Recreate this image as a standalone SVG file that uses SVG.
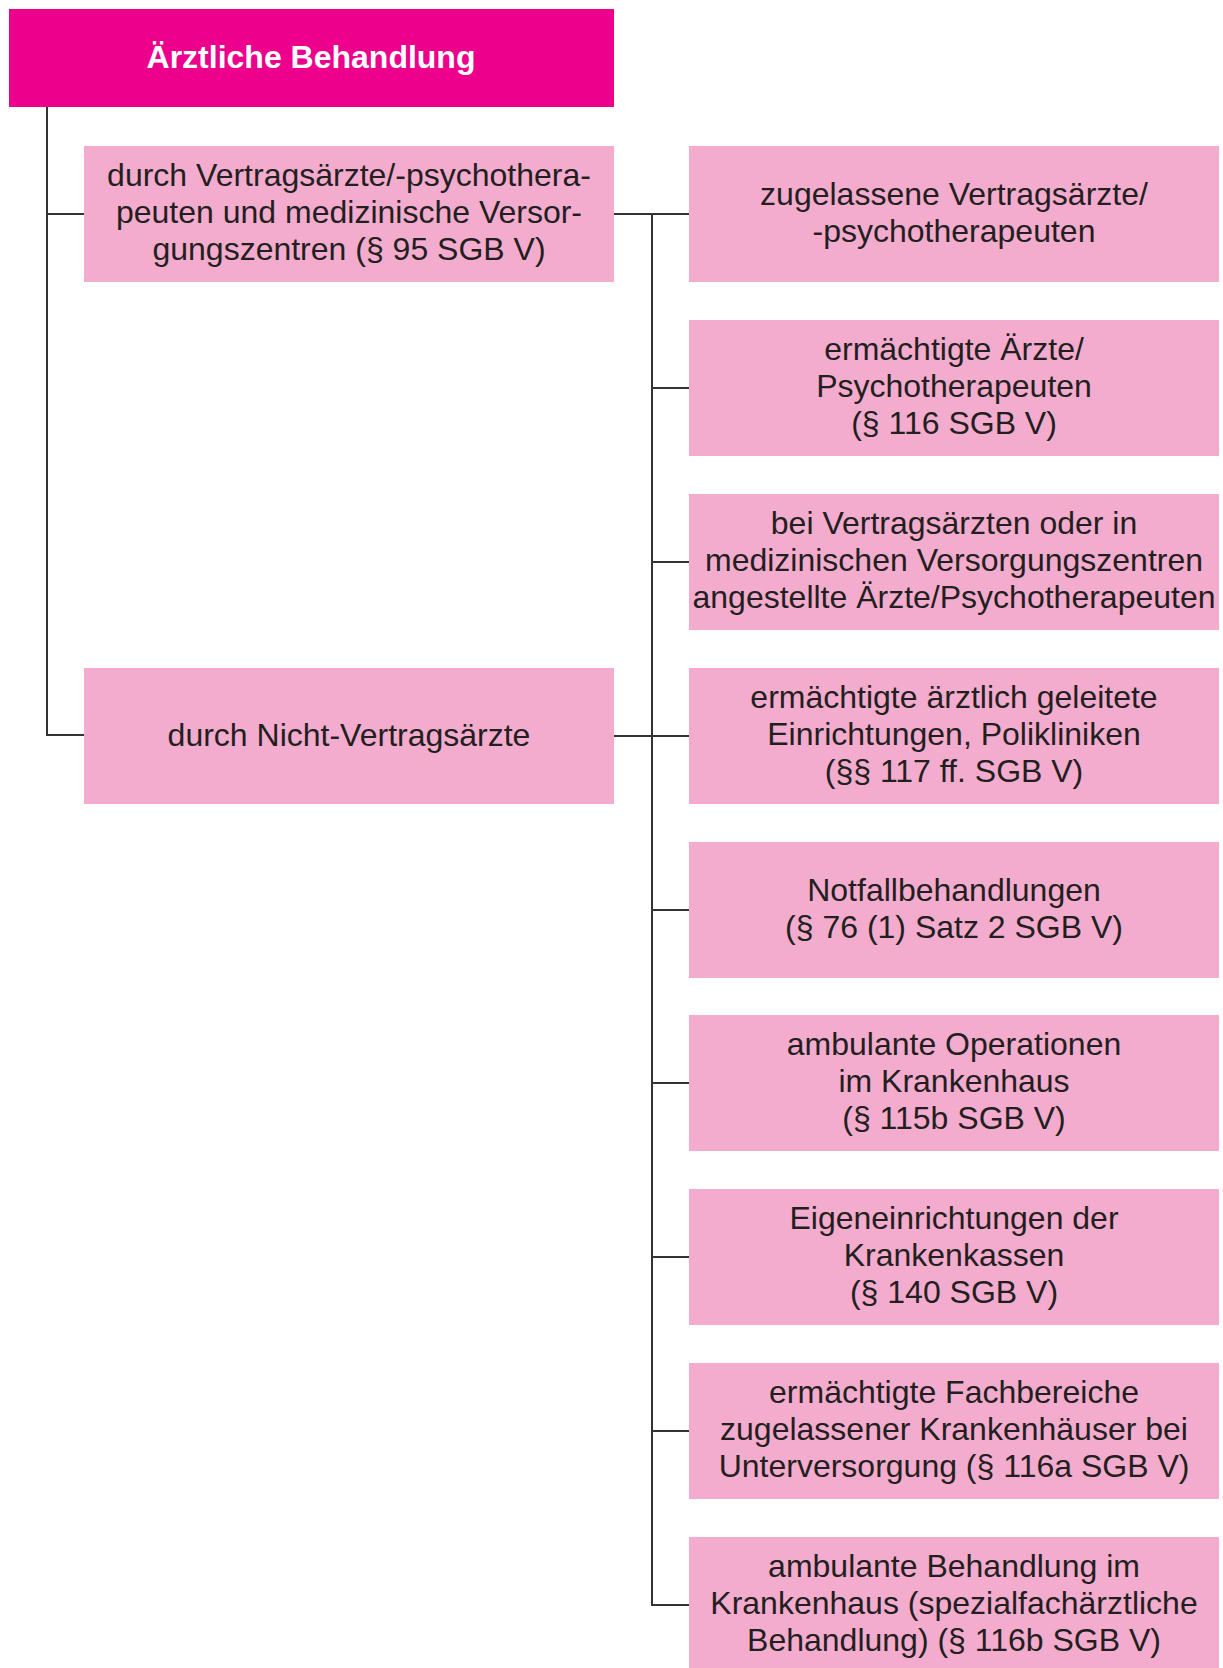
<svg xmlns="http://www.w3.org/2000/svg" width="1223" height="1668" viewBox="0 0 1223 1668">
<style>
.hdr{fill:#ec008c}
.box{fill:#f4acce}
.t{font-family:"Liberation Sans",Arial,sans-serif;font-size:32px;fill:#231f20;text-anchor:middle}
.h{font-family:"Liberation Sans",Arial,sans-serif;font-size:32px;font-weight:bold;fill:#ffffff;text-anchor:middle}
.c{stroke:#333333;stroke-width:2;fill:none}
</style>
<rect width="1223" height="1668" fill="#ffffff"/>
<g id="connectors" class="c">
<path d="M47 107 V735 H84"/>
<path d="M47 214 H84"/>
<path d="M614 214 H689"/>
<path d="M614 736 H689"/>
<path d="M652 214 V1605 H689"/>
<path d="M652 388 H689"/>
<path d="M652 562 H689"/>
<path d="M652 910 H689"/>
<path d="M652 1083 H689"/>
<path d="M652 1257 H689"/>
<path d="M652 1431 H689"/>
</g>
<g id="root">
<rect class="hdr" x="9" y="9" width="605" height="98"/>
<text class="h" x="311" y="67.5">Ärztliche Behandlung</text>
</g>
<g id="left1">
<rect class="box" x="84" y="146" width="530" height="136"/>
<text class="t" transform="translate(0,-2)"><tspan x="349" y="188">durch Vertragsärzte/-psychothera-</tspan><tspan x="349" y="225">peuten und medizinische Versor-</tspan><tspan x="349" y="262">gungszentren (§ 95 SGB V)</tspan></text>
</g>
<g id="left2">
<rect class="box" x="84" y="668" width="530" height="136"/>
<text class="t" x="349" y="745.5">durch Nicht-Vertragsärzte</text>
</g>
<g id="rights" transform="translate(0,-1.5)">
<g id="r0">
<rect class="box" x="689" y="147.5" width="530" height="136"/>
<text class="t"><tspan x="954" y="206">zugelassene Vertragsärzte/</tspan><tspan x="954" y="243">-psychotherapeuten</tspan></text>
</g>
<g id="r1">
<rect class="box" x="689" y="321.5" width="530" height="136"/>
<text class="t"><tspan x="954" y="361">ermächtigte Ärzte/</tspan><tspan x="954" y="398">Psychotherapeuten</tspan><tspan x="954" y="435">(§ 116 SGB V)</tspan></text>
</g>
<g id="r2">
<rect class="box" x="689" y="495.5" width="530" height="136"/>
<text class="t"><tspan x="954" y="535">bei Vertragsärzten oder in</tspan><tspan x="954" y="572">medizinischen Versorgungszentren</tspan><tspan x="954" y="609">angestellte Ärzte/Psychotherapeuten</tspan></text>
</g>
<g id="r3">
<rect class="box" x="689" y="669.5" width="530" height="136"/>
<text class="t"><tspan x="954" y="709">ermächtigte ärztlich geleitete</tspan><tspan x="954" y="746">Einrichtungen, Polikliniken</tspan><tspan x="954" y="783">(§§ 117 ff. SGB V)</tspan></text>
</g>
<g id="r4">
<rect class="box" x="689" y="843.5" width="530" height="136"/>
<text class="t"><tspan x="954" y="902">Notfallbehandlungen</tspan><tspan x="954" y="939">(§ 76 (1) Satz 2 SGB V)</tspan></text>
</g>
<g id="r5">
<rect class="box" x="689" y="1016.5" width="530" height="136"/>
<text class="t"><tspan x="954" y="1056">ambulante Operationen</tspan><tspan x="954" y="1093">im Krankenhaus</tspan><tspan x="954" y="1130">(§ 115b SGB V)</tspan></text>
</g>
<g id="r6">
<rect class="box" x="689" y="1190.5" width="530" height="136"/>
<text class="t"><tspan x="954" y="1230">Eigeneinrichtungen der</tspan><tspan x="954" y="1267">Krankenkassen</tspan><tspan x="954" y="1304">(§ 140 SGB V)</tspan></text>
</g>
<g id="r7">
<rect class="box" x="689" y="1364.5" width="530" height="136"/>
<text class="t"><tspan x="954" y="1404">ermächtigte Fachbereiche</tspan><tspan x="954" y="1441">zugelassener Krankenhäuser bei</tspan><tspan x="954" y="1478">Unterversorgung (§ 116a SGB V)</tspan></text>
</g>
<g id="r8">
<rect class="box" x="689" y="1538.5" width="530" height="136"/>
<text class="t"><tspan x="954" y="1578">ambulante Behandlung im</tspan><tspan x="954" y="1615">Krankenhaus (spezialfachärztliche</tspan><tspan x="954" y="1652">Behandlung) (§ 116b SGB V)</tspan></text>
</g>
</g>
</svg>
